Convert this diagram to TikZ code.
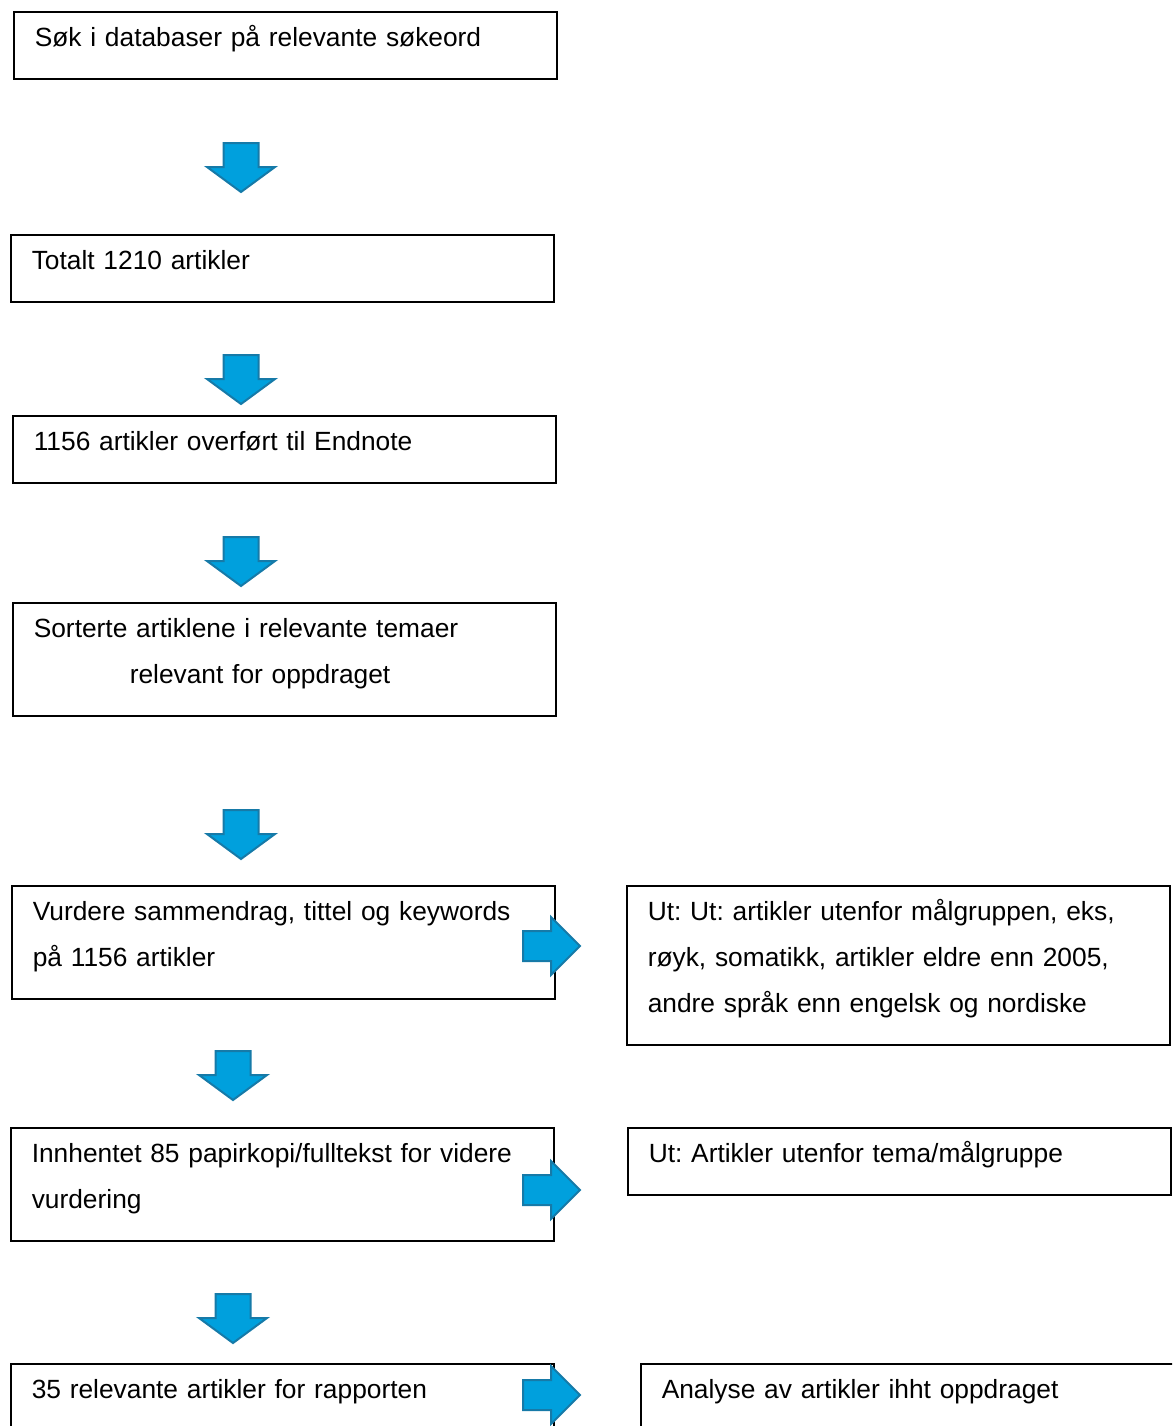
\documentclass[tikz,border=0pt]{standalone}
\usepackage{fontspec}
\setmainfont{Liberation Sans}
\usetikzlibrary{positioning}
\definecolor{cblue}{RGB}{0, 160, 221}
\definecolor{cbluedark}{RGB}{22, 122, 168}
\tikzset{
	x=0.45pt,%
	y=-0.45pt,%
	stepbox/.style={%
			draw,%
			rectangle,%
			line width=0.7pt,%
			anchor=north west,%
			align=left,%
			text width=225.45pt,%
			inner xsep=9.45pt,%
			inner ysep=0pt,%
			font={\fontsize{11.85}{20.7}\selectfont\frenchspacing},%
			execute at begin node={\rule{0pt}{15.75pt}},%
			execute at end node={\rule[-14.4pt]{0pt}{14.4pt}}},%
	blockarrow/.style={%
			fill=cblue,%
			draw=cbluedark,%
			line width=0.9pt,%
			line join=miter},%
	pics/downarrow/.style={code={%
				\draw[blockarrow] (-17.5,0) -- (17.5,0) -- (17.5,24) -- (34,24) -- (0,49) -- (-34,24) -- (-17.5,24) -- cycle;}},%
	pics/rightarrow/.style={code={%
				\draw[blockarrow] (0,-15) -- (28,-15) -- (28,-29) -- (57,0) -- (28,29) -- (28,15) -- (0,15) -- cycle;}},%
}

\begin{document}
\begin{tikzpicture}
	\useasboundingbox (0,0) rectangle (1172,1426);
	\clip (0,0) rectangle (1172,1426);

	% main column
	\node[stepbox] (search) at (13,11) {Søk i databaser på relevante søkeord};
	\node[stepbox] (total) at (10,234) {Totalt 1210 artikler};
	\node[stepbox] (endnote) at (12,415) {1156 artikler overført til Endnote};
	\node[stepbox] (sort) at (12,602) {Sorterte artiklene i relevante temaer \\
			\hspace*{43.2pt}relevant for oppdraget};
	\node[stepbox] (screen) at (11,885) {Vurdere sammendrag, tittel og keywords \\
			på 1156 artikler};
	\node[stepbox] (fulltext) at (10,1127) {Innhentet 85 papirkopi/fulltekst for videre \\
			vurdering};
	\node[stepbox] (relevant) at (10,1363) {35 relevante artikler for rapporten};

	% excluded / result
	\node[stepbox] (out1) at (626,885) {Ut: Ut: artikler utenfor målgruppen, eks, \\
			røyk, somatikk, artikler eldre enn 2005, \\
			andre språk enn engelsk og nordiske};
	\node[stepbox] (out2) at (627,1127) {Ut: Artikler utenfor tema/målgruppe};
	\node[stepbox] (analysis) at (640,1363) {Analyse av artikler ihht oppdraget};

	% arrows
	\pic (down1) at (241,143) {downarrow};
	\pic (down2) at (241,355) {downarrow};
	\pic (down3) at (241,537) {downarrow};
	\pic (down4) at (241,810) {downarrow};
	\pic (down5) at (233,1051) {downarrow};
	\pic (down6) at (233,1294) {downarrow};
	\pic (right1) at (523,946) {rightarrow};
	\pic (right2) at (523,1190) {rightarrow};
	\pic (right3) at (523,1395) {rightarrow};
\end{tikzpicture}
\end{document}
